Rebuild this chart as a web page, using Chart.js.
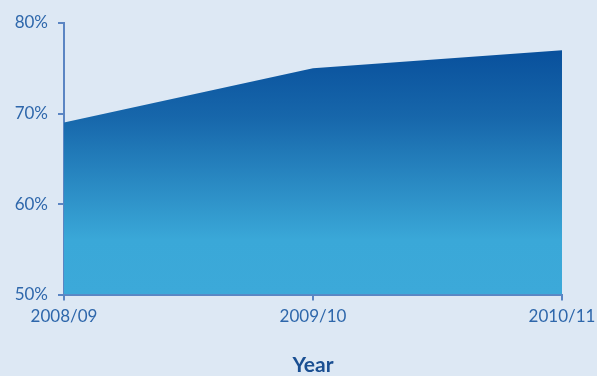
<!DOCTYPE html>
<html>
<head>
<meta charset="utf-8">
<script src="https://cdn.jsdelivr.net/npm/chart.js@4/dist/chart.umd.min.js"></script>
<style>
  html, body { margin: 0; padding: 0; background: #dde8f4; }
  #wrap { width: 597px; height: 376px; position: relative; }
</style>
</head>
<body>
<div id="wrap"><canvas id="chart"></canvas></div>
<script>
const YEARS = ['2008/09', '2009/10', '2010/11'];
const SHARE = [69, 75, 77];
const Y_MIN = 50;
const Y_MAX = 80;
const Y_STEP = 10;

const AXIS = '#5b85c3';
const TEXT = '#2e67ab';

// vertical fill: dark navy at the top fading to sky blue near the baseline
function areaFill(ctx) {
  const area = ctx.chart.chartArea;
  if (!area) return '#2a7fc0';
  const g = ctx.chart.ctx.createLinearGradient(0, area.top, 0, area.bottom);
  g.addColorStop(0, '#034796');
  g.addColorStop(0.35, '#1767ab');
  g.addColorStop(0.8, '#3aa8d8');
  g.addColorStop(1, '#3ca9d9');
  return g;
}

new Chart(document.getElementById('chart').getContext('2d'), {
  type: 'line',
  data: {
    labels: YEARS,
    datasets: [{
      data: SHARE,
      fill: 'start',
      backgroundColor: areaFill,
      borderColor: 'rgba(0,0,0,0)',
      borderWidth: 0,
      pointRadius: 0,
      tension: 0,
    }],
  },
  options: {
    responsive: true,
    maintainAspectRatio: false,
    animation: false,
    layout: { padding: { top: 23, right: 35, left: 0, bottom: 0 } },
    plugins: { legend: { display: false }, tooltip: { enabled: false } },
    scales: {
      x: {
        offset: false,
        border: { color: AXIS, width: 2 },
        grid: { drawOnChartArea: false, color: AXIS, lineWidth: 2, tickLength: 6 },
        ticks: { color: TEXT, font: { family: 'Lato', size: 17 }, padding: 6, maxRotation: 0 },
        title: {
          display: true,
          text: 'Year',
          color: '#1a4f92',
          font: { family: 'Lato', size: 21, weight: 'bold', lineHeight: 1 },
          padding: { top: 22, bottom: 0 },
        },
        afterFit: (s) => { s.paddingLeft = 0; s.paddingRight = 0; },
      },
      y: {
        min: Y_MIN,
        max: Y_MAX,
        border: { color: AXIS, width: 2 },
        grid: { drawOnChartArea: false, color: AXIS, lineWidth: 2, tickLength: 6 },
        ticks: {
          stepSize: Y_STEP,
          color: TEXT,
          font: { family: 'Lato', size: 17 },
          padding: 10,
          callback: (v) => v + '%',
        },
        afterFit: (s) => { s.width = 64; s.paddingTop = 0; },
      },
    },
  },
});
</script>
</body>
</html>
